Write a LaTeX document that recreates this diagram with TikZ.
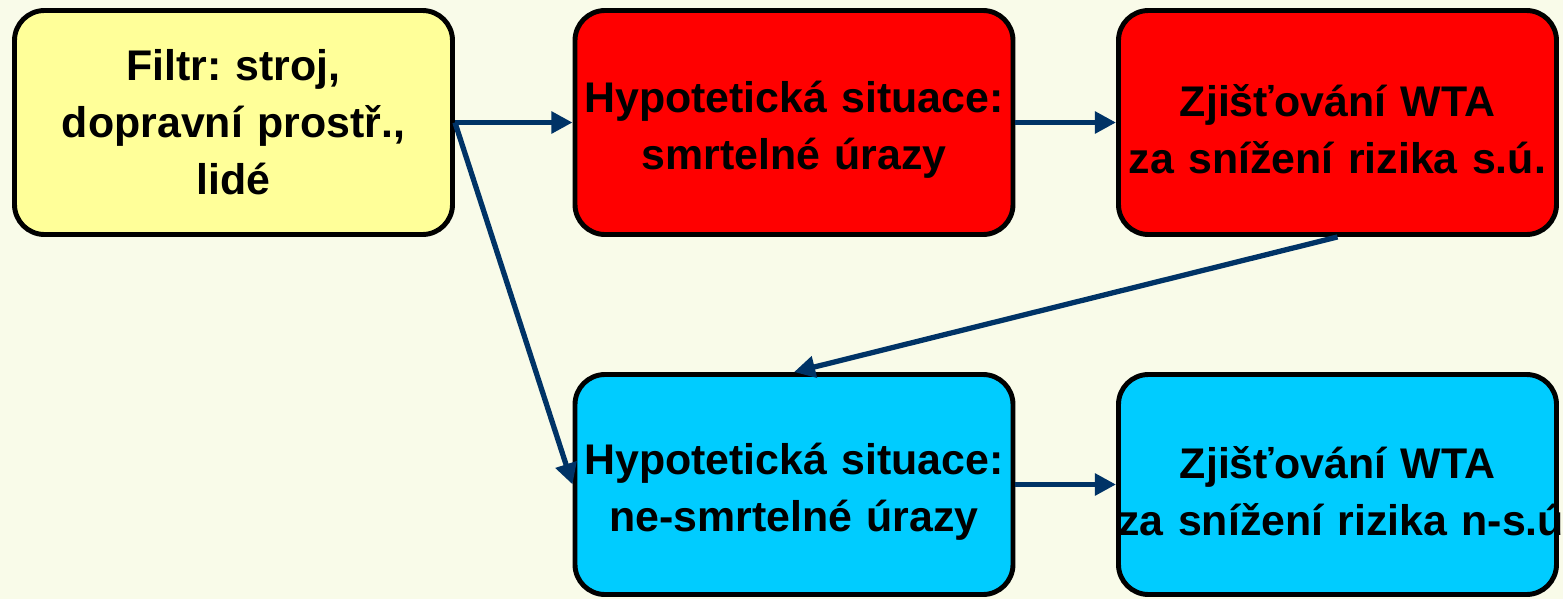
\documentclass[tikz,border=0pt]{standalone}
\usepackage{fontspec}
\setmainfont{Liberation Sans}
\frenchspacing
\usetikzlibrary{arrows.meta}
\definecolor{cream}{HTML}{F9FBE9}
\definecolor{pale}{HTML}{FFFF99}
\definecolor{hotred}{HTML}{FF0000}
\definecolor{sky}{HTML}{00CCFF}
\definecolor{navy}{HTML}{003366}
\begin{document}
\begin{tikzpicture}[line join=round,
    box/.style={draw=black, line width=1.4pt, rounded corners=0.3cm,
        minimum width=4.38cm, minimum height=2.24cm, text width=4.38cm,
        inner xsep=0pt, inner ysep=0.04cm, align=center,
        font=\fontsize{12.2}{16.2}\selectfont\bfseries},
    twoline/.style={execute at end node={\endgraf\vspace*{-0.14cm}}},
    link/.style={navy, line width=1.5pt, -{Triangle[length=6pt,width=6pt]}}]
    \fill[cream] (0,0) rectangle (15.63,5.99);
    \useasboundingbox (0,0) rectangle (15.63,5.99);
    % upper row
    \node[box, fill=pale] (filtr) at (2.335,4.765) {Filtr: stroj,\\dopravní prostř.,\\lidé};
    \node[box, twoline, fill=hotred] (smrt) at (7.94,4.765) {Hypotetická situace:\\smrtelné úrazy};
    \node[box, twoline, fill=hotred] (wtas) at (13.375,4.765) {Zjišťování WTA\\za snížení rizika s.ú.};
    % lower row
    \node[box, twoline, fill=sky, minimum height=2.2cm] (nesmrt) at (7.94,1.145) {Hypotetická situace:\\ne-smrtelné úrazy};
    \node[box, twoline, fill=sky, minimum height=2.2cm] (wtan) at (13.375,1.145) {Zjišťování WTA\\\mbox{za snížení rizika n-s.ú}};
    % arrows
    \draw[link] (filtr.east) -- (smrt.west);
    \draw[link] (filtr.east) -- (nesmrt.west);
    \draw[link] (smrt.east) -- (wtas.west);
    \draw[link] (wtas.south) -- (nesmrt.north);
    \draw[link] (nesmrt.east) -- (wtan.west);
\end{tikzpicture}
\end{document}
